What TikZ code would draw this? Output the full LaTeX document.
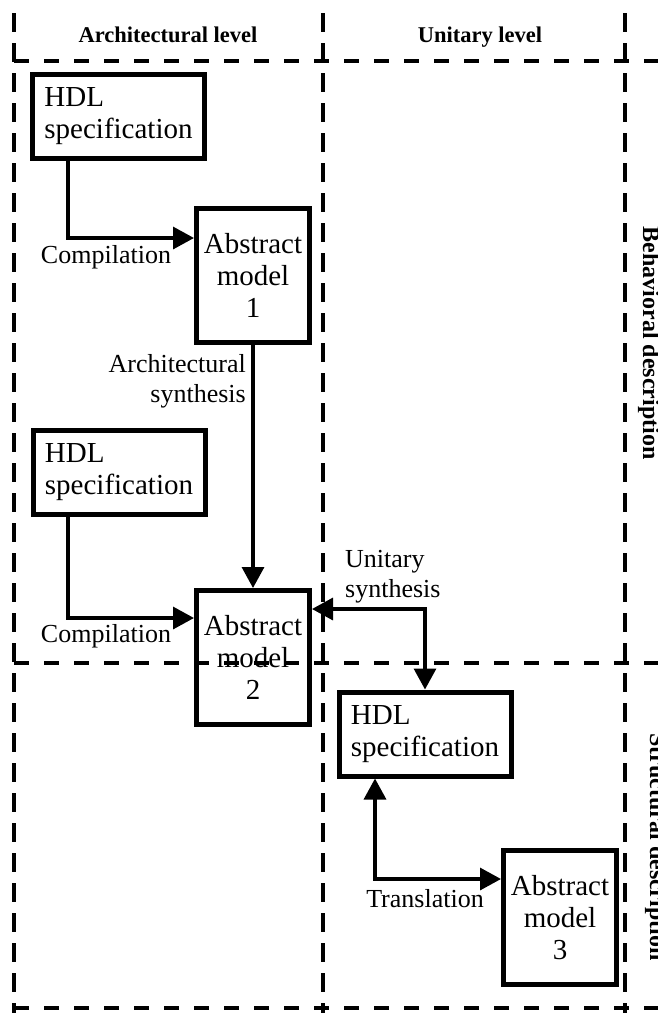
\documentclass[tikz,border=0pt]{standalone}
\usepackage{fontspec}
\setmainfont{Liberation Serif}
\usetikzlibrary{arrows.meta}

\begin{document}
\begin{tikzpicture}[x=1pt, y=-1pt,
    caja/.style={draw, line width=5pt, inner sep=0pt, font=\fontsize{29}{32}\selectfont},
    spec/.style={caja, minimum width=172pt, minimum height=84pt, align=left},
    modelo/.style={caja, minimum width=113pt, minimum height=134pt, align=center},
    etiqueta/.style={inner sep=0pt, font=\fontsize{26}{30}\selectfont},
    titulo/.style={inner sep=0pt, font=\bfseries\fontsize{22.5}{26}\selectfont},
    flecha/.style={line width=3.3pt, -{Triangle[length=21pt,width=22pt]}},
    dobleflecha/.style={line width=3.3pt, {Triangle[length=21pt,width=22pt]}-{Triangle[length=21pt,width=22pt]}},
    rayah/.style={line width=4pt, dash pattern=on 15pt off 15pt},
    rayav/.style={line width=4pt, dash pattern=on 19pt off 11pt}]
    \clip (0,0) rectangle (658,1013);

    % Rejilla
    \draw[rayav] (14,13) -- (14,1013);
    \draw[rayav] (323,13) -- (323,1013);
    \draw[rayav] (625,13) -- (625,1013);
    \draw[rayah] (14,61) -- (658,61);
    \draw[rayah] (14,663) -- (658,663);
    \draw[rayah] (14,1008) -- (658,1008);

    % Titulos
    \node[titulo, anchor=base] (arq) at (168,42) {Architectural level};
    \node[titulo, anchor=base] (uni) at (480,42) {Unitary level};
    \node[titulo, font=\bfseries\fontsize{24}{28}\selectfont, rotate=-90, anchor=base] (comp) at (643,343) {Behavioral description};
    \node[titulo, font=\bfseries\fontsize{24}{28}\selectfont, rotate=-90, anchor=base] (estr) at (650,847) {Structural description};

    % Nodos
    \node[spec] (hdlA) at (118.5,116.5) {HDL\\specification};
    \node[modelo] (amA) at (253,275.5) {Abstract\\model\\1};
    \node[spec] (hdlB) at (119,472) {HDL\\specification};
    \node[modelo] (amB) at (253,657.5) {Abstract\\model\\2};
    \node[spec] (hdlC) at (425,734) {HDL\\specification};
    \node[modelo] (amC) at (560,917.5) {Abstract\\model\\3};

    % Etiquetas
    \node[etiqueta, anchor=base] (compA) at (106,263) {Compilation};
    \node[etiqueta, anchor=north east, align=right] (sintA) at (246,354) {Architectural\\synthesis};
    \node[etiqueta, anchor=base] (compB) at (106,642) {Compilation};
    \node[etiqueta, anchor=north west, align=left] (sintU) at (345,550) {Unitary\\synthesis};
    \node[etiqueta, anchor=base] (trad) at (425,907) {Translation};

    % Conexiones
    \draw[flecha] ([xshift=-50.5pt]hdlA.south) |- ([yshift=37.5pt]amA.west);
    \draw[flecha] (amA.south) -- (amB.north);
    \draw[flecha] ([xshift=-51pt]hdlB.south) |- ([yshift=39.5pt]amB.west);
    \draw[dobleflecha] ([yshift=48.5pt]amB.east) -| (hdlC.north);
    \draw[dobleflecha] ([xshift=-50pt]hdlC.south) |- ([yshift=38.5pt]amC.west);

\end{tikzpicture}
\end{document}
